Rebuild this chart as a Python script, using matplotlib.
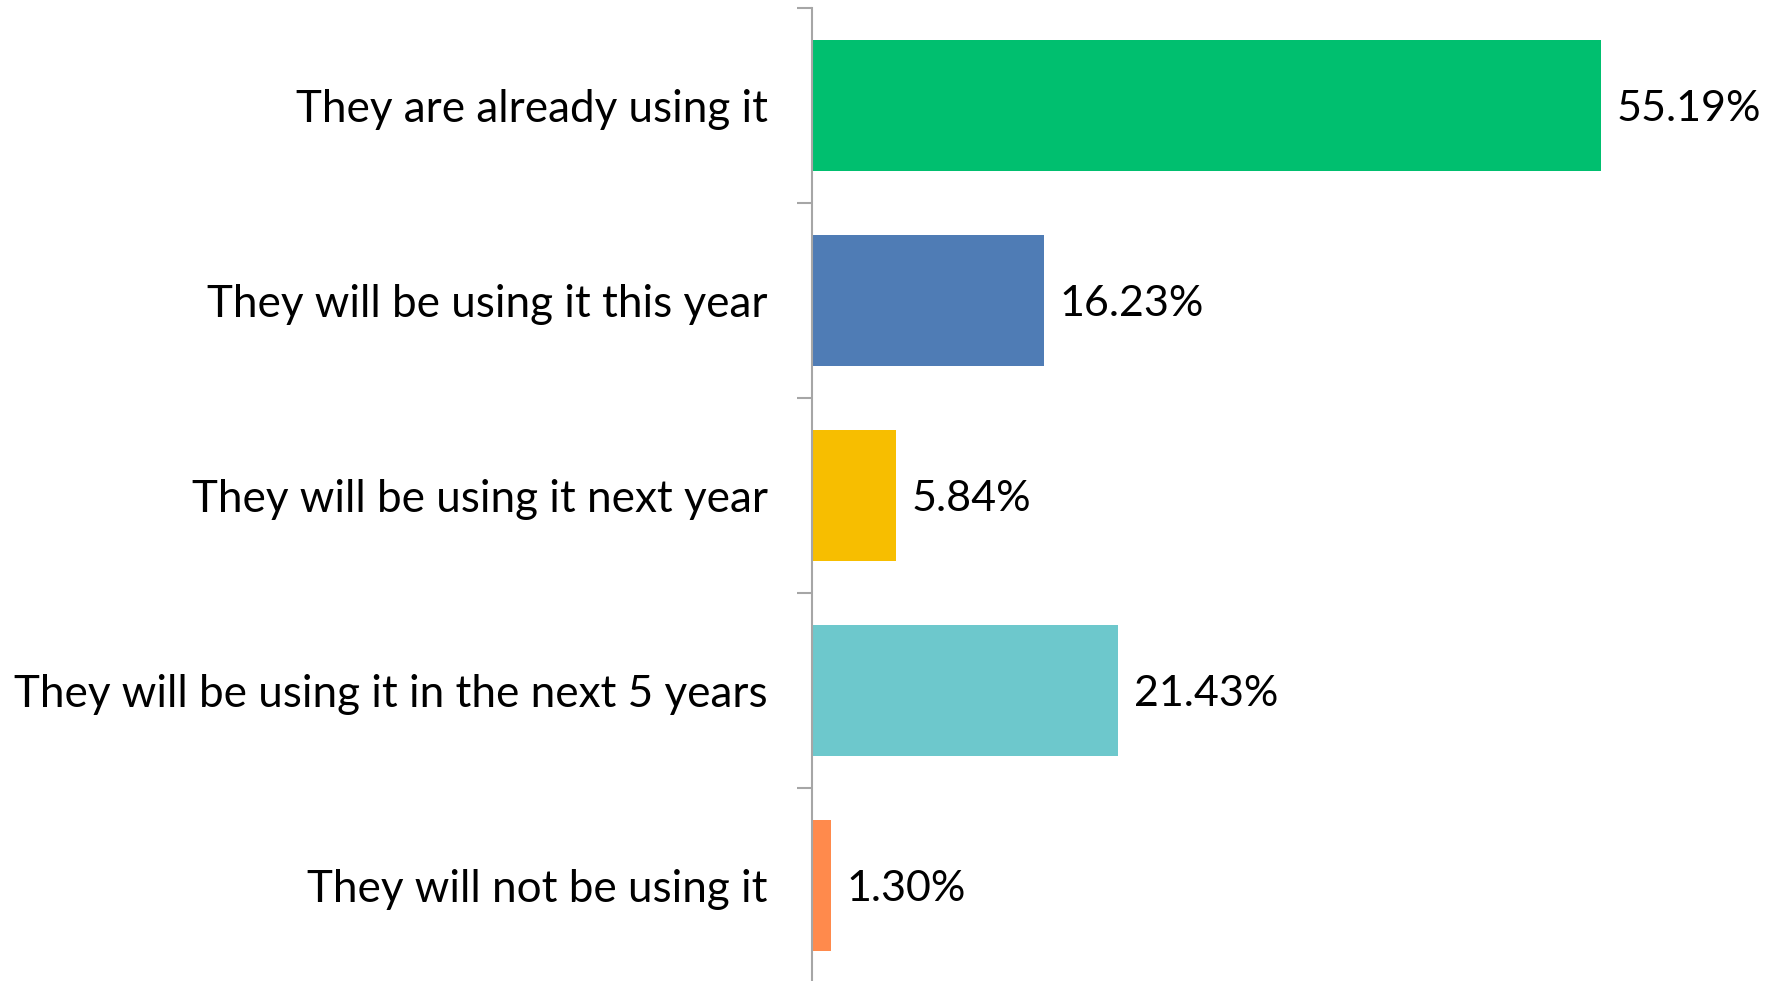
import matplotlib
matplotlib.use("Agg")
import matplotlib.pyplot as plt

categories = ["They are already using it",
              "They will be using it this year",
              "They will be using it next year",
              "They will be using it in the next 5 years",
              "They will not be using it"]
values = [55.19, 16.23, 5.84, 21.43, 1.30]
colors = ["#00BF6F", "#4F7CB5", "#F7BE00", "#6DC8CC", "#FF8A4C"]

plt.rcParams['font.family'] = ['Lato', 'DejaVu Sans']

fig = plt.figure(figsize=(17.79, 9.81), dpi=100)
ax = fig.add_axes([812 / 1779, -2 / 981, 967 / 1779, 975 / 981])

y = list(range(len(categories)))
ax.barh(y, values, height=0.667, color=colors)
ax.set_ylim(len(categories) - 0.5, -0.5)
ax.set_xlim(0, 967 / 14.3)

for yi, v in zip(y, values):
    ax.text(v + 1.1, yi, f"{v:.2f}%", va="center_baseline", ha="left", fontsize=31)

ax.set_yticks([i - 0.5 for i in range(len(categories))])
ax.set_yticklabels([])
ax.set_yticks(y, minor=True)
ax.set_yticklabels(categories, minor=True, fontsize=31.7)
ax.tick_params(axis="y", which="minor", length=0, pad=32)
ax.tick_params(axis="y", which="major", length=11, width=1.5, color="#A6A6A6")
ax.set_xticks([])
for s in ["top", "right", "bottom"]:
    ax.spines[s].set_visible(False)
ax.spines["left"].set_color("#A6A6A6")
ax.spines["left"].set_linewidth(1.5)

fig.savefig("out.png", dpi=100)
